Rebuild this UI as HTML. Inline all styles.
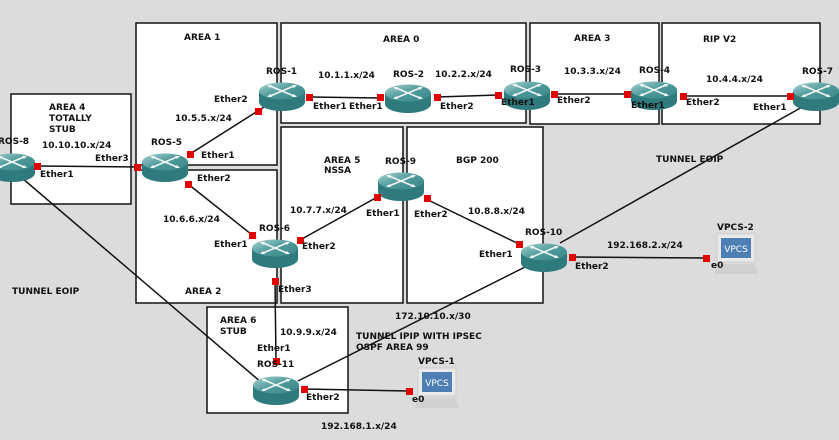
<!DOCTYPE html>
<html><head><meta charset="utf-8"><style>
html,body{margin:0;padding:0;background:#dcdcdc;}
svg{display:block;}
text{font-family:"DejaVu Sans","Liberation Sans",sans-serif;font-weight:bold;font-size:9px;fill:#111;}
</style></head><body>
<svg width="839" height="440" viewBox="0 0 839 440" xmlns="http://www.w3.org/2000/svg">
<defs>
<linearGradient id="tg" x1="0" y1="0" x2="1" y2="1"><stop offset="0" stop-color="#a9d3d3"/><stop offset="0.5" stop-color="#4e9a9b"/><stop offset="1" stop-color="#3a8586"/></linearGradient>
<g id="r">
<path d="M-23,-4 V7 A23,9 0 0 0 23,7 V-4 Z" fill="#2e7a7c"/>
<ellipse cx="0" cy="-4" rx="23" ry="8.5" fill="url(#tg)"/>
<g stroke="#fff" stroke-width="1.6" fill="none" opacity="0.9">
<path d="M-12,-9 L12,1 M-12,1 L12,-9"/>
</g>
<g fill="#fff" opacity="0.9"><path d="M-15,-10 l5,0 l-2,3z M15,2 l-5,0 l2,-3z M-15,2 l5,0 l-2,-3z M15,-10 l-5,0 l2,3z"/></g>
</g>
<g id="pc">
<rect x="-19" y="-24" width="38" height="28" fill="#eaeaea" stroke="#ccc"/>
<rect x="-15" y="-20" width="30" height="20" fill="#4d7fb5"/>
<text x="0" y="-6" text-anchor="middle" style="fill:#fff;font-size:9px;font-weight:normal">VPCS</text>
<path d="M-22,16 L22,16 L18,6 L-18,6 Z" fill="#d0d0d0"/>
</g>
</defs>
<rect width="839" height="440" fill="#dcdcdc"/>
<g fill="#fff" stroke="#111" stroke-width="1.5">
<rect x="136" y="23" width="141" height="142"/>
<rect x="281" y="23" width="245" height="100"/>
<rect x="530" y="23" width="129" height="101"/>
<rect x="662" y="23" width="158" height="101"/>
<rect x="11" y="94" width="120" height="110"/>
<rect x="136" y="170" width="141" height="133"/>
<rect x="281" y="127" width="122" height="176"/>
<rect x="407" y="127" width="136" height="176"/>
<rect x="207" y="307" width="141" height="106"/>
</g>
<g stroke="#111" stroke-width="1.5" fill="none">
<line x1="310" y1="97" x2="380" y2="98"/>
<line x1="437" y1="97" x2="498" y2="95"/>
<line x1="554" y1="94" x2="627" y2="94"/>
<line x1="683" y1="96" x2="790" y2="96"/>
<line x1="190" y1="154" x2="264" y2="107"/>
<line x1="38" y1="166" x2="140" y2="167"/>
<line x1="188" y1="184" x2="256" y2="238"/>
<line x1="381" y1="195" x2="300" y2="240"/>
<line x1="424" y1="198" x2="519" y2="244"/>
<line x1="573" y1="257" x2="706" y2="258"/>
<line x1="275" y1="281" x2="276" y2="361"/>
<line x1="304" y1="389" x2="409" y2="391"/>
<line x1="22" y1="178" x2="262" y2="383"/>
<line x1="298" y1="381" x2="525" y2="267"/>
<line x1="560" y1="243" x2="804" y2="106"/>
</g>
<use href="#r" x="282" y="95"/>
<use href="#r" x="408" y="97"/>
<use href="#r" x="527" y="94"/>
<use href="#r" x="654" y="94"/>
<use href="#r" x="816" y="95"/>
<use href="#r" x="12" y="166"/>
<use href="#r" x="165" y="166"/>
<use href="#r" x="401" y="185"/>
<use href="#r" x="275" y="252"/>
<use href="#r" x="544" y="256"/>
<use href="#r" x="276" y="389"/>
<use href="#pc" x="437" y="392"/>
<use href="#pc" x="736" y="258"/>
<g fill="#e00000">
<rect x="306" y="94" width="7" height="7"/><rect x="377" y="94" width="7" height="7"/>
<rect x="434" y="94" width="7" height="7"/><rect x="495" y="92" width="7" height="7"/>
<rect x="551" y="91" width="7" height="7"/><rect x="624" y="91" width="7" height="7"/>
<rect x="680" y="93" width="7" height="7"/><rect x="787" y="93" width="7" height="7"/>
<rect x="255" y="108" width="7" height="7"/><rect x="187" y="151" width="7" height="7"/>
<rect x="34" y="163" width="7" height="7"/><rect x="134" y="164" width="7" height="7"/>
<rect x="185" y="181" width="7" height="7"/><rect x="249" y="232" width="7" height="7"/>
<rect x="374" y="194" width="7" height="7"/><rect x="297" y="237" width="7" height="7"/>
<rect x="424" y="195" width="7" height="7"/><rect x="516" y="241" width="7" height="7"/>
<rect x="569" y="254" width="7" height="7"/><rect x="703" y="255" width="7" height="7"/>
<rect x="272" y="278" width="7" height="7"/><rect x="273" y="358" width="7" height="7"/>
<rect x="301" y="386" width="7" height="7"/><rect x="406" y="388" width="7" height="7"/>
</g>
<text x="184" y="40">AREA 1</text>
<text x="383" y="42">AREA 0</text>
<text x="574" y="41">AREA 3</text>
<text x="703" y="42">RIP V2</text>
<text x="49" y="110">AREA 4</text>
<text x="49" y="121">TOTALLY</text>
<text x="49" y="132">STUB</text>
<text x="185" y="294">AREA 2</text>
<text x="324" y="163">AREA 5</text>
<text x="324" y="173">NSSA</text>
<text x="456" y="163">BGP 200</text>
<text x="220" y="323">AREA 6</text>
<text x="220" y="334">STUB</text>
<text x="266" y="74">ROS-1</text>
<text x="393" y="77">ROS-2</text>
<text x="510" y="72">ROS-3</text>
<text x="639" y="73">ROS-4</text>
<text x="802" y="74">ROS-7</text>
<text x="-2" y="144">ROS-8</text>
<text x="151" y="145">ROS-5</text>
<text x="385" y="164">ROS-9</text>
<text x="259" y="231">ROS-6</text>
<text x="525" y="235">ROS-10</text>
<text x="257" y="367">ROS-11</text>
<text x="418" y="364">VPCS-1</text>
<text x="717" y="230">VPCS-2</text>
<text x="318" y="78">10.1.1.x/24</text>
<text x="435" y="77">10.2.2.x/24</text>
<text x="564" y="74">10.3.3.x/24</text>
<text x="706" y="82">10.4.4.x/24</text>
<text x="175" y="121">10.5.5.x/24</text>
<text x="42" y="148">10.10.10.x/24</text>
<text x="163" y="222">10.6.6.x/24</text>
<text x="290" y="213">10.7.7.x/24</text>
<text x="468" y="214">10.8.8.x/24</text>
<text x="607" y="248">192.168.2.x/24</text>
<text x="280" y="335">10.9.9.x/24</text>
<text x="395" y="319">172.10.10.x/30</text>
<text x="356" y="339">TUNNEL IPIP WITH IPSEC</text>
<text x="356" y="350">OSPF AREA 99</text>
<text x="321" y="429">192.168.1.x/24</text>
<text x="12" y="294">TUNNEL EOIP</text>
<text x="656" y="162">TUNNEL EOIP</text>
<text x="214" y="102">Ether2</text>
<text x="313" y="109">Ether1</text>
<text x="349" y="109">Ether1</text>
<text x="440" y="109">Ether2</text>
<text x="501" y="105">Ether1</text>
<text x="557" y="103">Ether2</text>
<text x="631" y="108">Ether1</text>
<text x="686" y="105">Ether2</text>
<text x="753" y="110">Ether1</text>
<text x="201" y="158">Ether1</text>
<text x="95" y="161">Ether3</text>
<text x="40" y="177">Ether1</text>
<text x="197" y="181">Ether2</text>
<text x="214" y="247">Ether1</text>
<text x="302" y="249">Ether2</text>
<text x="366" y="216">Ether1</text>
<text x="414" y="217">Ether2</text>
<text x="479" y="257">Ether1</text>
<text x="575" y="269">Ether2</text>
<text x="278" y="292">Ether3</text>
<text x="257" y="351">Ether1</text>
<text x="306" y="400">Ether2</text>
<text x="412" y="402">e0</text>
<text x="711" y="268">e0</text>
</svg>
</body></html>
